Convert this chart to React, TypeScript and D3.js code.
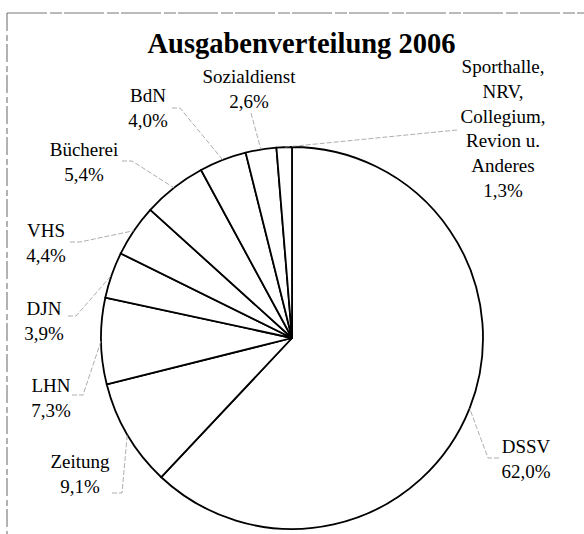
import React from "react";
import * as d3 from "d3";

// ---- data ----
const categories = ["DSSV", "Zeitung", "LHN", "DJN", "VHS", "Bücherei", "BdN", "Sozialdienst", "Sporthalle, NRV, Collegium, Revion u. Anderes"];
const labelLines = [["DSSV"], ["Zeitung"], ["LHN"], ["DJN"], ["VHS"], ["Bücherei"], ["BdN"], ["Sozialdienst"], ["Sporthalle,", "NRV,", "Collegium,", "Revion u.", "Anderes"]];
const values = [62.0, 9.1, 7.3, 3.9, 4.4, 5.4, 4.0, 2.6, 1.3];
const percentLabels = ["62,0%", "9,1%", "7,3%", "3,9%", "4,4%", "5,4%", "4,0%", "2,6%", "1,3%"];
const title = "Ausgabenverteilung 2006";

// ---- layout (label anchors: center x, first baseline y) ----
const labelPos: [number, number][] = [
  [526, 453], [80, 468], [51, 392], [44, 315], [46, 237], [84, 156], [148, 102], [249, 83], [503, 73],
];
// leader line points on the label side (ending at the pie edge, computed)
const leaderPts: [number, number][][] = [
  [[499, 458], [488, 458]],
  [[112, 493], [122, 493]],
  [[72, 395], [83, 395]],
  [[68, 316], [76, 316]],
  [[70, 242], [80, 242]],
  [[122, 161], [132, 161]],
  [[172, 108], [180, 108]],
  [[251, 113]],
  [[457, 130]],
];

const W = 584, H = 534;
const CX = 292, CY = 338, R = 191;
const LINE_H = 24.8;
const FONT = "'Liberation Serif', 'Times New Roman', Times, serif";

export default function App() {
  const pie = d3.pie<number>().sort(null).value((d) => d).startAngle(0).endAngle(2 * Math.PI);
  const arcs = pie(values);
  const arc = d3.arc<d3.PieArcDatum<number>>().innerRadius(0).outerRadius(R);
  const edgeArc = d3.arc<d3.PieArcDatum<number>>().innerRadius(R).outerRadius(R);
  const line = d3.line();

  return (
    <svg width={W} height={H} style={{ position: "absolute", left: 0, top: 0, background: "#fff" }}>
      {/* scanned frame */}
      <line x1={7} y1={13} x2={W} y2={13} stroke="#777" strokeWidth={1} strokeDasharray="40,3,12,2" />
      <line x1={7} y1={13} x2={7} y2={H} stroke="#666" strokeWidth={1} strokeDasharray="18,4,6,3" />
      {/* scan artifact */}
      <line x1={197} y1={497} x2={390} y2={497} stroke="#999" strokeWidth={0.8} strokeDasharray="3,6" />

      <text x={301.5} y={53} textAnchor="middle" style={{ fontFamily: FONT, fontSize: "28.5px", fontWeight: "bold" }} fill="#000">{title}</text>

      <g transform={`translate(${CX},${CY})`}>
        {arcs.map((a, i) => (
          <path key={categories[i]} d={arc(a) || ""} fill="#fff" stroke="#000" strokeWidth={1.8} strokeLinejoin="round" />
        ))}
      </g>

      {arcs.map((a, i) => {
        const [ex, ey] = edgeArc.centroid(a);
        const pts: [number, number][] = [...leaderPts[i], [CX + ex, CY + ey]];
        return (
          <path key={"l" + i} d={line(pts) || ""} fill="none" stroke="#999" strokeWidth={0.8} strokeDasharray="5,2" />
        );
      })}

      {labelLines.map((lines, i) => {
        const [x, y] = labelPos[i];
        const all = [...lines, percentLabels[i]];
        return (
          <text key={"t" + i} x={x} y={y} textAnchor="middle" style={{ fontFamily: FONT, fontSize: "19px", fontWeight: "normal" }} fill="#000">
            {all.map((s, j) => (
              <tspan key={j} x={x} y={y + j * LINE_H}>{s}</tspan>
            ))}
          </text>
        );
      })}
    </svg>
  );
}
